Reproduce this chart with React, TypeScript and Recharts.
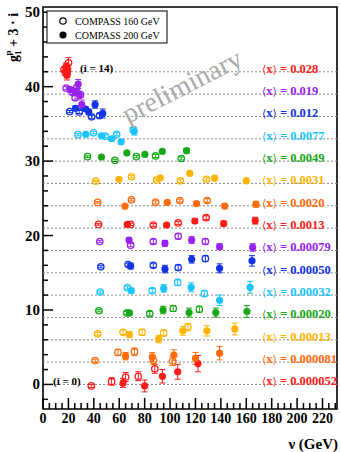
import React from 'react'
import { ScatterChart, Scatter, XAxis, YAxis, ReferenceLine, ReferenceArea, ErrorBar } from 'recharts'

// each point: [nu (GeV), g1p + 3*i, error]
type Pt = [number, number, number]

const bin0Open: Pt[] = [[38, -0.2, 0.2], [54, 0.4, 0.5], [65, 1.0, 0.6], [75, 1.1, 0.6], [88, 2.1, 0.6]]
const bin0Filled: Pt[] = [[63, 0.2, 0.6], [80, -0.2, 0.8], [94, 1.1, 0.9], [106, 1.7, 1.0], [122, 2.8, 1.1]]
const bin1Open: Pt[] = [[41, 3.2, 0.2], [59, 4.3, 0.4], [72, 4.4, 0.5], [87, 3.2, 0.5], [102, 3.15, 0.6]]
const bin1Filled: Pt[] = [[65, 3.8, 0.5], [86, 3.7, 0.6], [103, 3.95, 0.7], [120, 3.5, 0.8], [139, 4.2, 0.9]]
const bin2Open: Pt[] = [[43, 6.8, 0.2], [63, 7.0, 0.3], [78, 7.0, 0.4], [95, 6.9, 0.4], [114, 7.7, 0.5]]
const bin2Filled: Pt[] = [[68, 6.7, 0.4], [91, 6.1, 0.5], [110, 7.2, 0.6], [129, 7.2, 0.7], [151, 7.45, 0.8]]
const bin3Open: Pt[] = [[44, 9.9, 0.15], [66, 9.6, 0.2], [84, 9.5, 0.3], [102.5, 10.2, 0.4], [123, 10.1, 0.4]]
const bin3Filled: Pt[] = [[68, 9.6, 0.3], [94.5, 10.0, 0.5], [115, 9.65, 0.6], [136, 9.65, 0.6], [160.5, 9.8, 0.8]]
const bin4Open: Pt[] = [[45, 12.4, 0.15], [66.5, 13.0, 0.2], [86, 12.6, 0.3], [106, 13.7, 0.4], [127, 12.2, 0.4]]
const bin4Filled: Pt[] = [[69.5, 12.6, 0.3], [95, 12.9, 0.5], [116.6, 13.05, 0.6], [139, 11.3, 0.7], [163, 13.05, 0.8]]
const bin5Open: Pt[] = [[45.5, 15.8, 0.15], [67, 16.1, 0.2], [86.8, 16.0, 0.3], [106.4, 15.7, 0.35], [127.8, 16.9, 0.4]]
const bin5Filled: Pt[] = [[69, 15.9, 0.4], [96, 15.5, 0.5], [117, 16.8, 0.5], [139, 15.6, 0.6], [164.5, 16.6, 0.7]]
const bin6Open: Pt[] = [[44.7, 19.2, 0.15], [69, 18.7, 0.2], [86.8, 19.2, 0.3], [106.4, 19.9, 0.35], [127.8, 19.2, 0.35]]
const bin6Filled: Pt[] = [[67.7, 19.4, 0.3], [96, 18.95, 0.4], [117, 19.4, 0.45], [139, 18.5, 0.4], [165, 18.4, 0.5]]
const bin7Open: Pt[] = [[43.7, 21.5, 0.1], [69, 21.5, 0.15], [86.8, 21.4, 0.2], [106.4, 21.7, 0.2], [128.4, 22.4, 0.25]]
const bin7Filled: Pt[] = [[66.3, 21.5, 0.2], [97.3, 21.4, 0.25], [119.5, 21.95, 0.3], [142.2, 21.6, 0.35], [167, 22.0, 0.45]]
const bin8Open: Pt[] = [[43, 24.45, 0.1], [69.6, 24.8, 0.15], [88.6, 24.45, 0.2], [107.7, 24.7, 0.2], [129.2, 24.7, 0.25]]
const bin8Filled: Pt[] = [[64.5, 23.95, 0.2], [97.8, 24.45, 0.2], [120.8, 24.3, 0.25], [143, 23.96, 0.3], [167.6, 24.2, 0.4]]
const bin9Open: Pt[] = [[41.6, 27.3, 0.1], [69.6, 27.9, 0.15], [89.4, 27.45, 0.15], [108.2, 27.35, 0.2], [128.6, 27.55, 0.2]]
const bin9Filled: Pt[] = [[59.8, 27.55, 0.15], [92.3, 27.75, 0.2], [115.5, 28.35, 0.2], [135.1, 27.7, 0.25], [160, 27.35, 0.35]]
const bin10Open: Pt[] = [[35, 30.6, 0.1], [56.6, 30.1, 0.15], [73.5, 30.6, 0.15], [88.6, 30.7, 0.2], [108.8, 30.35, 0.2]]
const bin10Filled: Pt[] = [[46, 30.55, 0.15], [66, 31.1, 0.2], [80.2, 30.9, 0.2], [93.9, 31.3, 0.25], [113, 31.4, 0.3]]
const bin11Open: Pt[] = [[27.5, 33.55, 0.15], [39.8, 33.8, 0.15], [49, 33.35, 0.2], [58, 33.6, 0.2], [71, 34.2, 0.3]]
const bin11Filled: Pt[] = [[33.7, 33.6, 0.2], [46, 33.4, 0.2], [54, 33.0, 0.25], [61.5, 32.6, 0.3], [71.8, 34.0, 0.5]]
const bin12Open: Pt[] = [[21, 36.65, 0.15], [28.5, 36.6, 0.2], [38.3, 35.95, 0.2], [44.5, 36.1, 0.25]]
const bin12Filled: Pt[] = [[25.6, 37.1, 0.3], [33.5, 37.0, 0.3], [36, 36.6, 0.35], [41, 37.6, 0.5], [47, 36.4, 0.6]]
const bin13Open: Pt[] = [[18.3, 39.8, 0.2], [23.3, 39.2, 0.25], [25.3, 38.5, 0.3], [26.4, 39.85, 0.3], [29.5, 38.9, 0.3]]
const bin13Filled: Pt[] = [[21.5, 39.6, 0.3], [25, 39.4, 0.4], [27.7, 40.35, 0.6], [28.5, 38.9, 0.5], [30.5, 37.6, 0.6]]
const bin14Open: Pt[] = [[16.5, 42.3, 0.3], [18.6, 42.65, 0.4], [20.1, 43.2, 0.7], [19, 41.8, 0.4]]
const bin14Filled: Pt[] = [[17.3, 42.0, 0.5], [18.2, 42.7, 0.5], [18.8, 41.5, 0.6], [19.5, 42.2, 0.6]]

const openBins = [bin0Open, bin1Open, bin2Open, bin3Open, bin4Open, bin5Open, bin6Open, bin7Open,
  bin8Open, bin9Open, bin10Open, bin11Open, bin12Open, bin13Open, bin14Open]
const filledBins = [bin0Filled, bin1Filled, bin2Filled, bin3Filled, bin4Filled, bin5Filled, bin6Filled, bin7Filled,
  bin8Filled, bin9Filled, bin10Filled, bin11Filled, bin12Filled, bin13Filled, bin14Filled]

const xMeans = ['0.000052', '0.000081', '0.00013', '0.00020', '0.00032', '0.00050', '0.00079', '0.0013',
  '0.0020', '0.0031', '0.0049', '0.0077', '0.012', '0.019', '0.028']

const binColors = ['#ff1a1a', '#ff6a0a', '#ffb400', '#16a816', '#1ac4ff', '#1232e6', '#9a22ee',
  '#ff1a1a', '#ff6a0a', '#ffb400', '#16a816', '#1ac4ff', '#1232e6', '#9a22ee', '#ff1a1a']

const xMajor = [0, 20, 40, 60, 80, 100, 120, 140, 160, 180, 200, 220]
const xTicks = Array.from({ length: 47 }, (_, k) => k * 5)
const yTicks = Array.from({ length: 27 }, (_, k) => -2 + k * 2)

const FONT = '"Liberation Serif", "DejaVu Serif", serif'
const BRACKET_FONT = '"DejaVu Sans", "Noto Sans", sans-serif'

const toRows = (pts: Pt[]) => pts.map(([nu, y, err]) => ({ nu, y, err }))

function YTick(props: any) {
  const { x, y, payload } = props
  const v = payload.value
  const major = v % 10 === 0
  return (
    <g>
      <line x1={x} x2={x + (major ? 10 : 5)} y1={y} y2={y} stroke="#000" strokeWidth={1.5} />
      {major && (
        <text x={x - 3} y={y} dy={5} textAnchor="end" fontFamily={FONT} fontWeight="bold" fontSize={15} fill="#000">
          {v}
        </text>
      )}
    </g>
  )
}

function XTick(props: any) {
  const { x, y, payload } = props
  const v = payload.value
  const major = xMajor.includes(v)
  return (
    <g>
      <line x1={x} x2={x} y1={y} y2={y - (major ? 11 : 6)} stroke="#000" strokeWidth={1.5} />
      {major && (
        <text x={x} y={y + 14} textAnchor="middle" fontFamily={FONT} fontWeight="bold" fontSize={14} fill="#000">
          {v}
        </text>
      )}
    </g>
  )
}

const meanLabel = (i: number) => (props: any) => {
  const vb = props.viewBox
  return (
    <text x={vb.x + vb.width * 0.745} y={vb.y + 1} fontFamily={FONT} fontSize={12.5} fill={binColors[i]}>
      <tspan fontFamily={BRACKET_FONT} fontSize={11}>⟨</tspan>
      <tspan fontWeight="bold">x</tspan>
      <tspan fontFamily={BRACKET_FONT} fontSize={11}>⟩</tspan>
      <tspan fontWeight="bold"> = {xMeans[i]}</tspan>
    </text>
  )
}

const openDot = (color: string) => (p: any) => (
  <circle cx={p.cx} cy={p.cy} r={3.2} fill="none" stroke={color} strokeWidth={1.3} />
)
const filledDot = (color: string) => (p: any) => <circle cx={p.cx} cy={p.cy} r={3.6} fill={color} />

export default function App() {
  return (
    <div style={{ position: 'absolute', left: 0, top: 0, width: 341, height: 452, background: '#fff' }}>
      <ScatterChart width={341} height={452} margin={{ top: 7, right: 4, left: 0, bottom: 0 }}>
        <XAxis
          type="number"
          dataKey="nu"
          domain={[0, 231.4]}
          ticks={xTicks}
          interval={0}
          tick={<XTick />}
          tickLine={false}
          tickSize={0}
          tickMargin={0}
          axisLine={false}
          height={43}
        />
        <YAxis
          type="number"
          dataKey="y"
          domain={[-3.3, 50.7]}
          ticks={yTicks}
          interval={0}
          tick={<YTick />}
          tickLine={false}
          tickSize={0}
          tickMargin={0}
          axisLine={false}
          width={43}
        />
        {xMeans.map((_, i) => (
          <ReferenceLine
            key={'l' + i}
            y={3 * i}
            stroke="#8a8a8a"
            strokeDasharray="2 2"
            strokeWidth={1}
            label={meanLabel(i)}
          />
        ))}
        <ReferenceArea x1={0} x2={231.4} y1={-3.3} y2={50.7} fill="none" stroke="#000" strokeWidth={1.6} />
        {openBins.map((pts, i) => (
          <Scatter key={'o' + i} data={toRows(pts)} shape={openDot(binColors[i])} isAnimationActive={false}>
            <ErrorBar dataKey="err" direction="y" width={3} stroke={binColors[i]} strokeWidth={1} />
          </Scatter>
        ))}
        {filledBins.map((pts, i) => (
          <Scatter key={'f' + i} data={toRows(pts)} shape={filledDot(binColors[i])} isAnimationActive={false}>
            <ErrorBar dataKey="err" direction="y" width={3} stroke={binColors[i]} strokeWidth={1} />
          </Scatter>
        ))}
      </ScatterChart>
      <svg width={341} height={452} style={{ position: 'absolute', left: 0, top: 0, pointerEvents: 'none' }}>
        <text
          transform="translate(128,124) rotate(-27)"
          fontFamily={FONT}
          fontSize={28}
          fill="#aaaaaa"
        >
          preliminary
        </text>
        <text transform="translate(18,62) rotate(-90)" fontFamily={FONT} fontWeight="bold" fontSize={14} fill="#000">
          g
          <tspan fontSize={9} dy={3}>1</tspan>
          <tspan fontSize={9} dx={-5} dy={-10}>p</tspan>
          <tspan dy={7}> + 3 · i</tspan>
        </text>
        <rect x={47} y={11} width={120} height={32} fill="#fff" stroke="#000" strokeWidth={1} />
        <circle cx={63} cy={21} r={3.2} fill="none" stroke="#000" strokeWidth={1.2} />
        <text x={75} y={24.5} fontFamily={FONT} fontSize={10} fill="#000">COMPASS 160 GeV</text>
        <circle cx={63} cy={35} r={3.6} fill="#000" />
        <text x={75} y={38.5} fontFamily={FONT} fontSize={10} fill="#000">COMPASS 200 GeV</text>
        <text x={80} y={72} fontFamily={FONT} fontWeight="bold" fontSize={11} fill="#000">(i = 14)</text>
        <text x={53} y={385} fontFamily={FONT} fontWeight="bold" fontSize={11} fill="#000">(i = 0)</text>
        <text x={338} y={449} textAnchor="end" fontFamily={FONT} fontWeight="bold" fontSize={15} fill="#000">ν (GeV)</text>
      </svg>
    </div>
  )
}
